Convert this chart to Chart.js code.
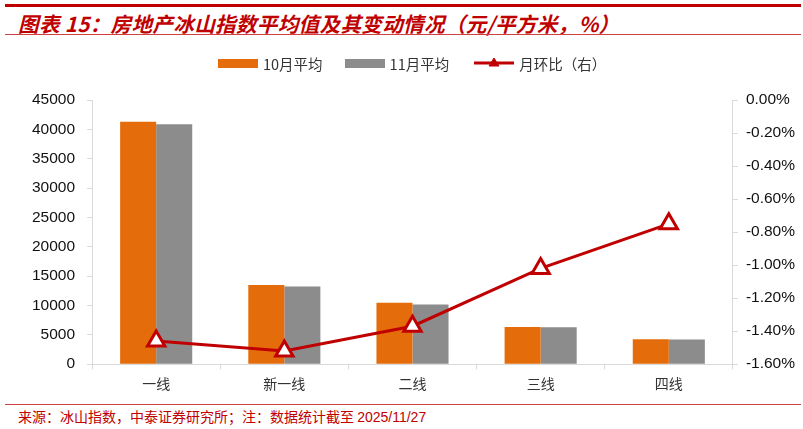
<!DOCTYPE html>
<html>
<head>
<meta charset="utf-8">
<script src="https://cdn.jsdelivr.net/npm/chart.js@4.4.1/dist/chart.umd.min.js"></script>
<style>
  html, body { margin: 0; padding: 0; background: #fff; }
  #page { position: relative; width: 803px; height: 429px; overflow: hidden; font-family: "Noto Sans CJK SC", sans-serif; }
  .topline { position: absolute; left: 5px; width: 796px; top: 4px; height: 3px; background: #C00000; }
  .title { position: absolute; left: 18px; top: 8px; font-size: 20.6px; font-weight: bold; font-style: italic; color: #C00000; white-space: nowrap; letter-spacing: 0.3px; }
  .subline { position: absolute; left: 5px; width: 796px; top: 34px; height: 1px; background: #D04040; }
  .footline { position: absolute; left: 5px; width: 796px; top: 404px; height: 1px; background: #D04040; }
  .foot { position: absolute; left: 18px; top: 406px; font-size: 14px; color: #C00000; white-space: nowrap; }
  .foot .num { font-family: "Liberation Sans Narrow", "Liberation Sans", sans-serif; }
  #wrap { position: absolute; left: 0; top: 40px; width: 803px; height: 362px; }
  .legend { position: absolute; top: 54px; left: 218px; height: 18px; display: flex; align-items: center; font-size: 14.5px; color: #333; white-space: nowrap; }
  .legend .sw { display: inline-block; width: 40px; height: 9px; margin-right: 5px; }
  .legend .item { display: flex; align-items: center; margin-right: 22px; }
</style>
</head>
<body>
<div id="page">
  <div class="topline"></div>
  <div class="title">图表 15：房地产冰山指数平均值及其变动情况（元/平方米，%）</div>
  <div class="subline"></div>
  <div id="wrap"><canvas id="chart"></canvas></div>
  <div class="legend" id="legend"></div>
  <div class="footline"></div>
  <div class="foot">来源：冰山指数，中泰证券研究所；注：数据统计截至 <span class="num">2025/11/27</span></div>
</div>
<script>
/* ----- dados ----- */
const categorias = ['一线', '新一线', '二线', '三线', '四线'];
const mediaOutubro = [41300, 13500, 10450, 6330, 4230];
const mediaNovembro = [40850, 13250, 10150, 6300, 4220];
const variacaoMensal = [-1.46, -1.52, -1.37, -1.02, -0.75];
const nomesSeries = ['10月平均', '11月平均', '月环比（右）'];

const corLaranja = '#E46C0A';
const corCinza = '#8C8C8C';
const corVermelho = '#C00000';
const corEixo = '#D9D9D9';

/* ----- legenda em html ----- */
const legenda = document.getElementById('legend');
legenda.innerHTML = `
  <span class="item"><span class="sw" style="background:${corLaranja}"></span>${nomesSeries[0]}</span>
  <span class="item" style="margin-right:24px"><span class="sw" style="background:${corCinza}"></span>${nomesSeries[1]}</span>
  <span class="item"><svg width="42" height="14" style="margin-right:4px">
    <line x1="1" y1="7" x2="41" y2="7" stroke="${corVermelho}" stroke-width="3"/>
    <polygon points="21,2 26,10 16,10" fill="${corVermelho}" stroke="${corVermelho}" stroke-width="1"/>
  </svg>${nomesSeries[2]}</span>
`;

const fonteNum = { family: '"Liberation Sans", Arial, sans-serif', size: 15.5 };

const ctx = document.getElementById('chart').getContext('2d');
new Chart(ctx, {
  data: {
    labels: categorias,
    datasets: [
      {
        type: 'line',
        label: nomesSeries[2],
        data: variacaoMensal,
        yAxisID: 'y1',
        borderColor: corVermelho,
        borderWidth: 3,
        pointStyle: 'triangle',
        pointRadius: 10,
        pointBackgroundColor: '#fff',
        pointBorderColor: corVermelho,
        pointBorderWidth: 3,
        tension: 0,
        order: 0
      },
      {
        type: 'bar',
        label: nomesSeries[0],
        data: mediaOutubro,
        backgroundColor: corLaranja,
        yAxisID: 'y',
        categoryPercentage: 0.5625,
        barPercentage: 1,
        order: 1
      },
      {
        type: 'bar',
        label: nomesSeries[1],
        data: mediaNovembro,
        backgroundColor: corCinza,
        yAxisID: 'y',
        categoryPercentage: 0.5625,
        barPercentage: 1,
        order: 1
      }
    ]
  },
  options: {
    responsive: true,
    maintainAspectRatio: false,
    animation: false,
    layout: { padding: { top: 60, left: 20, right: 0, bottom: 4 } },
    plugins: {
      legend: { display: false },
      tooltip: { enabled: false }
    },
    scales: {
      x: {
        offset: true,
        grid: { offset: true, drawOnChartArea: false, color: corEixo, tickLength: 5, tickColor: corEixo },
        border: { color: corEixo },
        ticks: { color: '#333', padding: 6, font: { family: '"Noto Sans CJK SC", sans-serif', size: 14 } }
      },
      y: {
        position: 'left',
        min: 0,
        max: 45000,
        grid: { drawOnChartArea: false, tickLength: 5, tickColor: corEixo },
        border: { color: corEixo },
        ticks: { stepSize: 5000, color: '#111', padding: 12, font: fonteNum, callback: v => String(v) }
      },
      y1: {
        position: 'right',
        min: -1.6,
        max: 0,
        grid: { drawOnChartArea: false, tickLength: 5, tickColor: corEixo },
        border: { color: corEixo },
        ticks: {
          stepSize: 0.2,
          color: '#111',
          padding: 8,
          font: fonteNum,
          callback: v => (Math.abs(v) < 1e-9 ? 0 : v).toFixed(2) + '%'
        }
      }
    }
  }
});
</script>
</body>
</html>
